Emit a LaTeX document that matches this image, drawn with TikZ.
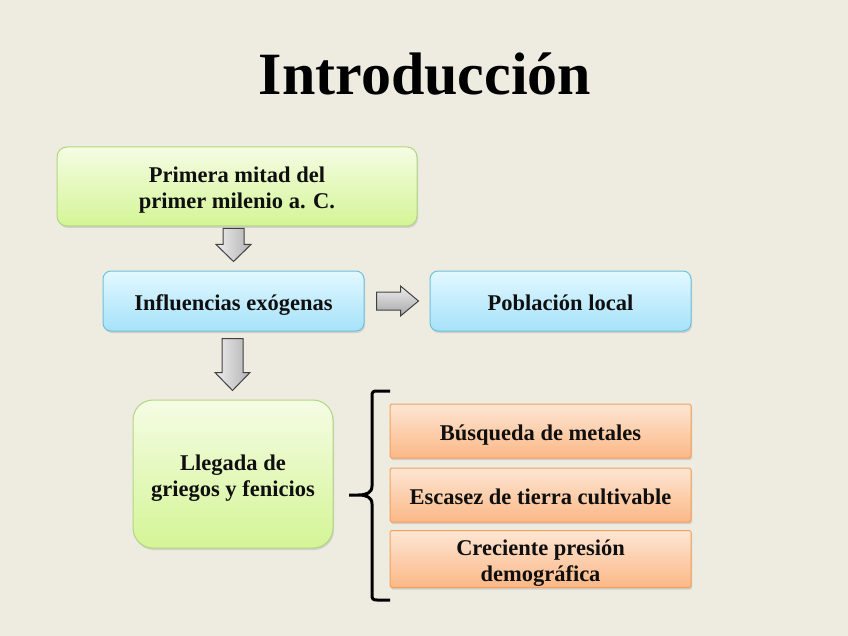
\documentclass[tikz,border=0pt]{standalone}
\usepackage{fontspec}
\setmainfont{Liberation Serif}
\usetikzlibrary{shadows,calc}
\definecolor{bg}{RGB}{238,236,225}
\definecolor{gtop}{RGB}{245,252,228}
\definecolor{gbot}{RGB}{212,245,150}
\definecolor{gline}{RGB}{178,214,128}
\definecolor{btop}{RGB}{226,248,255}
\definecolor{bbot}{RGB}{166,226,250}
\definecolor{bline}{RGB}{110,192,222}
\definecolor{otop}{RGB}{253,230,212}
\definecolor{obot}{RGB}{251,184,134}
\definecolor{oline}{RGB}{244,160,90}
\definecolor{txt}{RGB}{15,15,15}
\newcommand\tstrut{\rule{0pt}{25pt}}
\newcommand\bstrut{\rule[-6pt]{0pt}{6pt}}
\tikzset{
  boxbase/.style={draw, line width=1pt, align=center, text=txt,
    font=\bfseries\fontsize{22.5}{26}\selectfont, inner sep=0pt,
    drop shadow={opacity=0.25, shadow xshift=1pt, shadow yshift=-2pt}},
  greenbox/.style={boxbase, draw=gline, top color=gtop, bottom color=gbot, rounded corners=10pt},
  bluebox/.style={boxbase, draw=bline, top color=btop, bottom color=bbot, rounded corners=8pt},
  orangebox/.style={boxbase, draw=oline, top color=otop, bottom color=obot, rounded corners=1.5pt},
  blockdown/.style={draw=black!75, line width=1pt, left color=white!93!black, right color=black!30, line join=miter},
  blockright/.style={draw=black!75, line width=1pt, top color=white!93!black, bottom color=black!35, line join=miter},
  bracestyle/.style={draw=black, line width=3pt}
}
\begin{document}
\begin{tikzpicture}[x=1pt,y=-1pt]
\fill[bg] (0,0) rectangle (848,636);
\useasboundingbox (0,0) rectangle (848,636);

\node[text=black] (title) at (425,74) {\bfseries\fontsize{60}{60}\selectfont Introducción};

\node[greenbox, minimum width=360pt, minimum height=79pt] (b1) at (237,186.5)
  {\tstrut Primera mitad del\\primer milenio a. C.\bstrut};
\node[bluebox, minimum width=261pt, minimum height=60pt] (b2) at (233.5,301) {\tstrut Influencias exógenas\bstrut};
\node[bluebox, minimum width=261pt, minimum height=60pt] (b3) at (560.5,301) {\tstrut Población local\bstrut};
\node[greenbox, rounded corners=20pt, minimum width=200pt, minimum height=148pt] (b4) at (233,474)
  {\tstrut Llegada de\\griegos y fenicios\bstrut};
\node[orangebox, minimum width=301pt, minimum height=54pt] (o1) at (540.5,431) {\tstrut Búsqueda de metales\bstrut};
\node[orangebox, minimum width=301pt, minimum height=54pt] (o2) at (540.5,495) {\tstrut Escasez de tierra cultivable\bstrut};
\node[orangebox, minimum width=301pt, minimum height=54pt] (o3) at (540.5,559) {\tstrut Creciente presión\\demográfica\bstrut};

% down arrow b1 -> b2
\coordinate (a1s) at ($(b2.north)+(0,-42)$);
\draw[blockdown] ($(a1s)+(-10.5,0)$) -- ($(a1s)+(10.5,0)$) -- ($(a1s)+(10.5,16)$) -- ($(a1s)+(17.5,16)$)
  -- ($(a1s)+(0,33)$) -- ($(a1s)+(-17.5,16)$) -- ($(a1s)+(-10.5,16)$) -- cycle;
% down arrow b2 -> b4
\coordinate (a2s) at ($(b2.south)+(-1,7)$);
\draw[blockdown] ($(a2s)+(-10.5,0)$) -- ($(a2s)+(10.5,0)$) -- ($(a2s)+(10.5,34)$) -- ($(a2s)+(17.5,34)$)
  -- ($(a2s)+(0,52)$) -- ($(a2s)+(-17.5,34)$) -- ($(a2s)+(-10.5,34)$) -- cycle;
% right arrow b2 -> b3
\coordinate (a3s) at ($(b2.east)+(12,0)$);
\draw[blockright] ($(a3s)+(0,-9)$) -- ($(a3s)+(24,-9)$) -- ($(a3s)+(24,-15)$) -- ($(a3s)+(42,0)$)
  -- ($(a3s)+(24,15)$) -- ($(a3s)+(24,9)$) -- ($(a3s)+(0,9)$) -- cycle;

% brace
\coordinate (brtop) at (390,391);
\coordinate (brbot) at (390,600);
\coordinate (brtip) at (349,495);
\draw[bracestyle] (brtop) -- (377,391) .. controls (373,391) and (372,392) .. (372,396)
  -- (372,486) .. controls (372,493) and (366,495) .. (358,495) -- (brtip)
  -- (358,495) .. controls (366,495) and (372,497) .. (372,504)
  -- (372,595) .. controls (372,599) and (373,600) .. (377,600) -- (brbot);
\end{tikzpicture}
\end{document}
